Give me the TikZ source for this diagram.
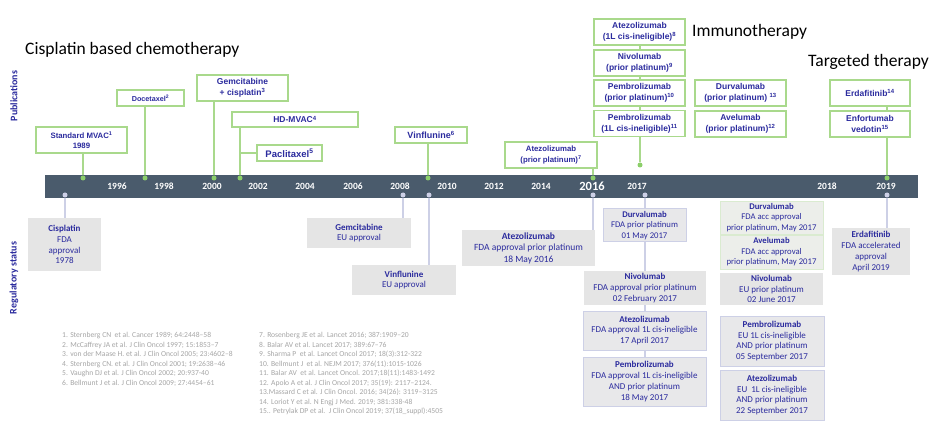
\documentclass[tikz,border=0pt]{standalone}
\usepackage{fontspec}
\setmainfont{Carlito}
\newfontfamily\pubfont{Liberation Sans}
\usetikzlibrary{positioning, backgrounds}
\definecolor{navy}{HTML}{2B2B9E}
\definecolor{pubgreen}{HTML}{A9D98C}
\definecolor{dotgreen}{HTML}{8CCF6A}
\definecolor{barblue}{HTML}{4A5B6C}
\definecolor{lav}{HTML}{CDD0E6}
\definecolor{lavfill}{HTML}{E8E8EA}
\definecolor{regfill}{HTML}{E5E5E5}
\definecolor{accfill}{HTML}{ECEEEA}
\definecolor{accborder}{HTML}{DAEBD0}
\definecolor{refgray}{HTML}{A6A6A6}
\tikzstyle{pub}=[draw=pubgreen, line width=1.4pt, fill=white, text=navy, font=\pubfont\bfseries\fontsize{8.5}{10.8}\selectfont, align=center, inner sep=0pt]
\tikzstyle{reg}=[fill=regfill, text=navy, font=\fontsize{9}{10.8}\selectfont, align=center, inner sep=0pt]
\tikzstyle{regl}=[reg, draw=lav, line width=1pt, fill=lavfill]
\tikzstyle{regg}=[reg, draw=accborder, line width=0.8pt, fill=accfill]
\tikzstyle{gdot}=[circle, fill=dotgreen, inner sep=0pt, minimum size=5pt]
\tikzstyle{sdot}=[circle, fill=lav, inner sep=0pt, minimum size=5pt]
\tikzstyle{gline}=[draw=pubgreen, line width=1.4pt]
\tikzstyle{sline}=[draw=lav, line width=1.4pt]
\tikzstyle{year}=[text=white, font=\bfseries\fontsize{9.5}{11}\selectfont]
\tikzstyle{heading}=[font=\fontsize{17.5}{20}\selectfont, anchor=base west, inner sep=0pt]
\tikzstyle{side}=[text=navy, font=\bfseries\fontsize{10}{12}\selectfont, rotate=90]
\tikzstyle{refs}=[text=refgray, font=\fontsize{7.6}{9.5}\selectfont, align=left, anchor=north west, inner sep=0pt]

\begin{document}
\begin{tikzpicture}[x=1pt, y=-1pt]
            \useasboundingbox (0,0) rectangle (936,438);
            \node[heading] (tchemo) at (25,54.5) {Cisplatin based chemotherapy};
            \node[heading] (timmuno) at (692,37) {Immunotherapy};
            \node[heading] (ttarget) at (808,67) {Targeted therapy};
            \node[side] (lpub) at (14,96) {Publications};
            \node[side] (lreg) at (14,278) {Regulatory status};

            \node[fill=barblue, minimum width=873pt, minimum height=23pt, inner sep=0pt, anchor=north west] (bar) at (45,175) {};
            \node[year] (y1996) at (117,186.5) {1996};
            \node[year] (y1998) at (164,186.5) {1998};
            \node[year] (y2000) at (212,186.5) {2000};
            \node[year] (y2002) at (258,186.5) {2002};
            \node[year] (y2004) at (305,186.5) {2004};
            \node[year] (y2006) at (353,186.5) {2006};
            \node[year] (y2008) at (400,186.5) {2008};
            \node[year] (y2010) at (447,186.5) {2010};
            \node[year] (y2012) at (494,186.5) {2012};
            \node[year] (y2014) at (541,186.5) {2014};
            \node[year, font=\bfseries\fontsize{12.5}{14}\selectfont] (y2016) at (592,186) {2016};
            \node[year] (y2017) at (637,186.5) {2017};
            \node[year] (y2018) at (827,186.5) {2018};
            \node[year] (y2019) at (886,186.5) {2019};

            \node[gdot] (p1) at (83,178) {};
            \node[gdot] (p2) at (145,178) {};
            \node[gdot] (p3) at (214,178) {};
            \node[gdot] (p4) at (240,178) {};
            \node[gdot] (p5) at (428,178) {};
            \node[gdot] (p6) at (593,178) {};
            \node[gdot] (p7) at (640,165) {};
            \node[gdot] (p8) at (887,178) {};
            \node[sdot] (s1) at (65,195) {};
            \node[sdot] (s2) at (403,195) {};
            \node[sdot] (s3) at (429,195) {};
            \node[sdot] (s4) at (593,195) {};
            \node[sdot] (s5) at (645,195) {};
            \node[sdot] (s6) at (887,195) {};

            \node[pub, minimum width=91pt, minimum height=26pt, font=\pubfont\bfseries\fontsize{7.8}{10.5}\selectfont] (mvac) at (81.5,140) {Standard MVAC\textsuperscript{1}\\1989};
            \node[pub, minimum width=67pt, minimum height=16pt, font=\pubfont\bfseries\fontsize{7.2}{8}\selectfont] (doce) at (150.5,98) {Docetaxel\textsuperscript{2}};
            \node[pub, minimum width=91pt, minimum height=26pt] (gemcis) at (242.5,88) {Gemcitabine\\+ cisplatin\textsuperscript{3}};
            \node[pub, minimum width=126pt, minimum height=15pt] (hdmvac) at (295,119.5) {HD-MVAC\textsuperscript{4}};
            \node[pub, minimum width=65pt, minimum height=16pt, font=\pubfont\bfseries\fontsize{9.5}{11}\selectfont] (pacli) at (289.5,153) {Paclitaxel\textsuperscript{5}};
            \node[pub, minimum width=72pt, minimum height=16pt, font=\pubfont\bfseries\fontsize{9}{11}\selectfont] (vinf) at (431,135) {Vinflunine\textsuperscript{6}};
            \node[pub, minimum width=92pt, minimum height=26pt, font=\pubfont\bfseries\fontsize{7.8}{10.5}\selectfont] (atezo7) at (551,155) {Atezolizumab\\(prior platinum)\textsuperscript{7}};
            \node[pub, minimum width=91pt, minimum height=26pt] (atezo8) at (639.5,32) {Atezolizumab\\(1L cis-ineligible)\textsuperscript{8}};
            \node[pub, minimum width=91pt, minimum height=26pt] (nivo9) at (639.5,63) {Nivolumab\\(prior platinum)\textsuperscript{9}};
            \node[pub, minimum width=91pt, minimum height=26pt] (pembro10) at (639.5,93) {Pembrolizumab\\(prior platinum)\textsuperscript{10}};
            \node[pub, minimum width=91pt, minimum height=26pt] (pembro11) at (639.5,123.5) {Pembrolizumab\\(1L cis-ineligible)\textsuperscript{11}};
            \node[pub, minimum width=91pt, minimum height=26pt] (durva13) at (740.5,93) {Durvalumab\\(prior platinum) \textsuperscript{13}};
            \node[pub, minimum width=91pt, minimum height=26pt] (avel12) at (740.5,124) {Avelumab\\(prior platinum)\textsuperscript{12}};
            \node[pub, minimum width=80pt, minimum height=26pt] (erda14) at (870,93) {Erdafitinib\textsuperscript{14}};
            \node[pub, minimum width=80pt, minimum height=26pt] (enfo15) at (870,124) {Enfortumab\\vedotin\textsuperscript{15}};

            \node[reg, minimum width=73pt, minimum height=53pt] (cisreg) at (64.5,244.5) {\textbf{Cisplatin}\\FDA\\approval\\1978};
            \node[reg, minimum width=104pt, minimum height=30pt] (gemreg) at (359,233) {\textbf{Gemcitabine}\\EU approval};
            \node[reg, minimum width=104pt, minimum height=30pt] (vinreg) at (404,280) {\textbf{Vinflunine}\\EU approval};
            \node[reg, minimum width=133pt, minimum height=36pt, font=\fontsize{9.5}{11.5}\selectfont] (atereg16) at (528.5,248) {\textbf{Atezolizumab}\\FDA approval prior platinum\\18 May 2016};
            \node[regl, minimum width=83pt, minimum height=33pt, font=\fontsize{8.7}{10.3}\selectfont] (durreg) at (644.5,225.5) {\textbf{Durvalumab}\\FDA prior platinum\\01 May 2017};
            \node[reg, minimum width=122pt, minimum height=34pt] (nivreg) at (645,288) {\textbf{Nivolumab}\\FDA approval prior platinum\\02 February 2017};
            \node[regl, minimum width=123pt, minimum height=39pt] (atereg17) at (644.5,330.5) {\textbf{Atezolizumab}\\FDA approval 1L cis-ineligible\\17 April 2017};
            \node[regl, minimum width=123pt, minimum height=49pt] (pemreg17) at (644.5,381.5) {\textbf{Pembrolizumab}\\FDA approval 1L cis-ineligible\\AND prior platinum\\18 May 2017};
            \node[regg, minimum width=103pt, minimum height=33pt, font=\fontsize{8.7}{10.5}\selectfont] (durreg2) at (771.5,217.5) {\textbf{Durvalumab}\\FDA acc approval\\prior platinum, May 2017};
            \node[regg, minimum width=103pt, minimum height=34pt, font=\fontsize{8.7}{10.5}\selectfont] (avereg) at (771.5,252) {\textbf{Avelumab}\\FDA acc approval\\prior platinum, May 2017};
            \node[reg, minimum width=103pt, minimum height=32pt] (nivreg2) at (771.5,289) {\textbf{Nivolumab}\\EU prior platinum\\02 June 2017};
            \node[regl, minimum width=104pt, minimum height=50pt] (pemreg2) at (772,341) {\textbf{Pembrolizumab}\\EU 1L cis-ineligible\\AND prior platinum\\05 September 2017};
            \node[regl, minimum width=104pt, minimum height=50pt] (atereg2) at (772,395) {\textbf{Atezolizumab}\\EU\ \ 1L cis-ineligible\\AND prior platinum\\22 September 2017};
            \node[reg, minimum width=78pt, minimum height=47pt] (erdreg) at (871,251.5) {\textbf{Erdafitinib}\\FDA accelerated\\approval\\April 2019};

            \node[refs] (refleft) at (62,332.5) {1. Sternberg CN\ \ et al. Cancer 1989; 64:2448--58\\2. McCaffrey JA et al. J Clin Oncol 1997; 15:1853--7\\3. von der Maase H. et al. J Clin Oncol 2005; 23:4602--8\\4. Sternberg CN. et al. J Clin Oncol 2001; 19:2638--46\\5. Vaughn DJ et al. J Clin Oncol 2002; 20:937-40\\6. Bellmunt J et al. J Clin Oncol 2009; 27:4454--61};
            \node[refs] (refright) at (259,332.5) {7. Rosenberg JE et al. Lancet 2016; 387:1909--20\\8. Balar AV et al. Lancet 2017; 389:67--76\\9. Sharma P\ \ et al. Lancet Oncol 2017; 18(3):312-322\\10. Bellmunt J\ \ et al. NEJM 2017; 376(11):1015-1026\\11. Balar AV\ \ et al. Lancet Oncol. 2017;18(11):1483-1492\\12. Apolo A et al. J Clin Oncol 2017; 35(19): 2117--2124.\\13.Massard C et al. J Clin Oncol. 2016; 34(26): 3119--3125\\14. Loriot Y et al. N Engj J Med. 2019; 381:338-48\\15.. Petrylak DP et al.\ \ J Clin Oncol 2019; 37(18\_suppl):4505};

            \begin{scope}[on background layer]
            \fill[white] (0,0) rectangle (936,438);
            \draw[gline] (mvac.south -| p1) -- (p1);
            \draw[gline] (doce.south -| p2) -- (p2);
            \draw[gline] (gemcis.south -| p3) -- (p3);
            \draw[gline] (hdmvac.south -| p4) -- (p4);
            \draw[gline] (p4 |- pacli.west) -- (pacli.west);
            \draw[gline] (vinf.south -| p5) -- (p5);
            \draw[gline] (atezo7.south -| p6) -- (p6);
            \draw[gline] (atezo8.south -| p7) -- (p7);
            \draw[gline] (erda14.south -| p8) -- (p8);
            \draw[sline] (s1) -- (s1 |- cisreg.north);
            \draw[sline] (s2) -- (s2 |- gemreg.north);
            \draw[sline] (s3) -- (s3 |- vinreg.north);
            \draw[sline] (s4) -- (s4 |- atereg16.north);
            \draw[sline] (s5) -- (s5 |- pemreg17.north);
            \draw[sline] (s6) -- (s6 |- erdreg.north);
            \end{scope}
        \end{tikzpicture}
\end{document}
